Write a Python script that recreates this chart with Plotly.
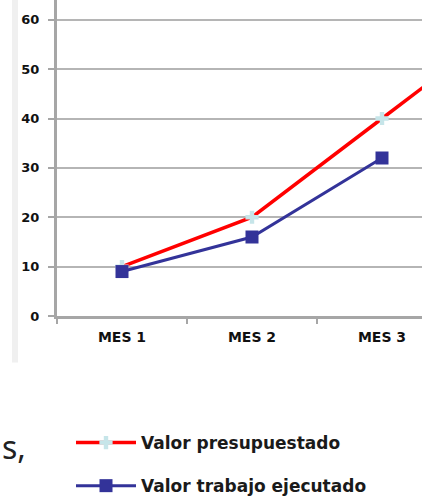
import plotly.graph_objects as go

# Monthly budget vs. executed work value
categories = ["MES 1", "MES 2", "MES 3", "MES 4"]
valor_presupuestado = [10, 20, 40, 60]
valor_ejecutado = [9, 16, 32, None]
y_ticks = [0, 10, 20, 30, 40, 50, 60]

W, H = 422, 504
left, right, top, bottom = 57, 0, 0, 184
plot_w = W - left - right
plot_h = H - top - bottom

fig = go.Figure()

fig.add_trace(go.Scatter(
    x=categories, y=valor_presupuestado, name="Valor presupuestado",
    mode="lines+markers", legendgroup="a",
    line=dict(color="#ff0000", width=3.5),
    marker=dict(symbol="cross", size=11, color="#c6e5e9", line=dict(width=0)),
))
fig.add_trace(go.Scatter(
    x=categories, y=valor_ejecutado, name="Valor trabajo ejecutado",
    mode="lines+markers", legendgroup="b",
    line=dict(color="#333399", width=3),
    marker=dict(symbol="square", size=13, color="#333399", line=dict(width=0)),
))

# pixel -> paper helpers for decoration placement
def px_x(px):
    return (px - left) / plot_w

def px_y(py):
    return (H - bottom - py) / plot_h

fig.update_layout(
    width=W, height=H,
    margin=dict(l=left, r=right, t=top, b=bottom, pad=0),
    paper_bgcolor="white", plot_bgcolor="white",
    showlegend=True,
    legend=dict(
        x=px_x(71), y=px_y(431), xanchor="left", yanchor="top",
        font=dict(family="DejaVu Sans", size=17, color="#1a1a1a", weight="bold"),
        traceorder="grouped", tracegroupgap=18, itemwidth=60,
        bgcolor="rgba(0,0,0,0)",
    ),
    xaxis=dict(
        type="category", range=[-0.5, (W - left) / 130 - 0.5],
        showgrid=False, showline=True, linecolor="#a6a6a6", linewidth=3,
        ticks="outside", tickson="boundaries", ticklen=5, tickwidth=2, tickcolor="#a6a6a6",
        tickfont=dict(family="DejaVu Sans", size=14, color="#111111", weight="bold"),
        ticklabelstandoff=6,
    ),
    yaxis=dict(
        range=[0, 64], tickvals=y_ticks, ticktext=[str(v) for v in y_ticks],
        showgrid=True, gridcolor="#b5b5b5", gridwidth=2,
        showline=True, linecolor="#a6a6a6", linewidth=3,
        ticks="outside", ticklen=6, tickwidth=2, tickcolor="#a6a6a6",
        tickfont=dict(family="DejaVu Sans", size=13, color="#111111", weight="bold"),
        ticklabelstandoff=6, zeroline=False,
    ),
    shapes=[dict(
        type="rect", xref="paper", yref="paper",
        x0=px_x(12), x1=px_x(18), y0=px_y(367), y1=1.0,
        fillcolor="#f0f0f0", line=dict(width=0), layer="below",
    )],
    annotations=[dict(
        text="s,", xref="paper", yref="paper",
        x=px_x(0), y=px_y(452), xanchor="left", yanchor="middle",
        showarrow=False, font=dict(family="Noto Sans", size=32, color="#222222"),
    )],
)

fig.write_html("out.html")
